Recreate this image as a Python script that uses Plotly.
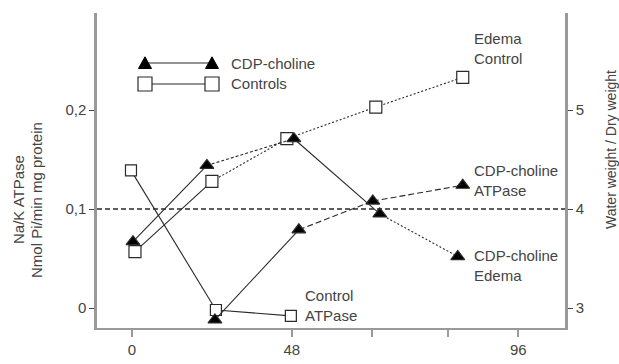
import plotly.graph_objects as go

# ---------------- data ----------------
# hours after injury (x), Na/K ATPase (left axis), water/dry weight (right axis)
ctrl_edema_h = [0.9, 24.0, 46.5, 73.2, 99.3]
ctrl_edema_v = [3.57, 4.28, 4.71, 5.03, 5.33]

cdp_edema_h = [0.3, 22.5, 48.6, 74.4, 97.8]
cdp_edema_v = [3.67, 4.44, 4.71, 3.95, 3.52]

cdp_atp_h = [24.9, 50.1, 72.3, 99.3]
cdp_atp_v = [-0.012, 0.079, 0.108, 0.124]

ctrl_atp_h = [-0.3, 25.2, 47.7]
ctrl_atp_v = [0.139, -0.002, -0.008]

# segment styles between successive points
ctrl_edema_dash = ["solid", "2px,2px", "2px,2px", "2px,2px"]
cdp_edema_dash = ["solid", "3px,2px", "solid", "2px,2px"]
cdp_atp_dash = ["solid", "6px,3px", "6px,3px"]
ctrl_atp_dash = ["solid", "solid"]

x_tickvals = [0, 48, 72, 95, 116]
x_ticktext = ["0", "48", "", "", "96"]
y_tickvals = [0, 0.1, 0.2]
y_ticktext = ["0", "0,1", "0,2"]
y2_tickvals = [3, 4, 5]
y2_ticktext = ["3", "4", "5"]

INK = "#2a2a2a"
TXT = "#444444"
AX = "#9a9a9a"
FONT = "Liberation Sans, Arial, sans-serif"

fig = go.Figure()

def add_series(h, v, dashes, yaxis, symbol, size, fill):
    for i, d in enumerate(dashes):
        fig.add_trace(go.Scatter(x=h[i:i + 2], y=v[i:i + 2], yaxis=yaxis, mode="lines",
                                 line=dict(color=INK, width=1.1, dash=d),
                                 showlegend=False, hoverinfo="skip"))
    fig.add_trace(go.Scatter(x=h, y=v, yaxis=yaxis, mode="markers",
                             marker=dict(symbol=symbol, size=size, color=fill,
                                         line=dict(color=INK, width=1.2)),
                             showlegend=False))

add_series(ctrl_edema_h, ctrl_edema_v, ctrl_edema_dash, "y2", "square", 12, "white")
add_series(ctrl_atp_h, ctrl_atp_v, ctrl_atp_dash, "y", "square", 11, "white")
add_series(cdp_edema_h, cdp_edema_v, cdp_edema_dash, "y2", "triangle-up", 12, "black")
add_series(cdp_atp_h, cdp_atp_v, cdp_atp_dash, "y", "triangle-up", 12, "black")

# ---------------- layout geometry ----------------
W, H = 619, 364
L, R, T, B = 97, 565, 13, 328
PW, PH = R - L, B - T

def px(x):
    return (x - L) / PW

def py(y):
    return (B - y) / PH

fig.update_layout(
    width=W, height=H,
    margin=dict(l=L, r=W - R, t=T, b=H - B),
    paper_bgcolor="white", plot_bgcolor="white",
    font=dict(family=FONT, size=15, color=TXT),
    xaxis=dict(range=[-10.5, 130], tickvals=x_tickvals, ticktext=x_ticktext,
               automargin=False,
               showgrid=False, zeroline=False, showline=True, linecolor=AX, linewidth=2,
               ticks="outside", ticklen=7, tickcolor=AX, tickwidth=1.5),
    yaxis=dict(range=[-0.0202, 0.298], tickvals=y_tickvals, ticktext=y_ticktext,
               automargin=False,
               showgrid=False, zeroline=False, showline=True, linecolor=AX, linewidth=2.5,
               ticks="outside", ticklen=5, tickcolor=TXT, tickwidth=1.2),
    yaxis2=dict(range=[2.798, 5.98], tickvals=y2_tickvals, ticktext=y2_ticktext,
                overlaying="y", side="right", automargin=False,
                showgrid=False, zeroline=False, showline=True, linecolor=AX, linewidth=2.5,
                ticks="outside", ticklen=5, tickcolor=TXT, tickwidth=1.2),
)

# dashed reference line at 0,1 / 4
fig.add_shape(type="line", xref="paper", yref="y", x0=0, x1=1, y0=0.1, y1=0.1,
              line=dict(color=INK, width=1.3, dash="5px,3px"))

# ---------------- legend drawn by hand ----------------
def tri(cx, cy, s=6.5):
    pts = [(cx - s, cy + s * 0.85), (cx + s, cy + s * 0.85), (cx, cy - s * 0.95)]
    return "M " + " L ".join(f"{px(a):.5f},{py(b):.5f}" for a, b in pts) + " Z"

for cy in (63, 84):
    fig.add_shape(type="line", xref="paper", yref="paper",
                  x0=px(145), x1=px(212), y0=py(cy), y1=py(cy),
                  line=dict(color=INK, width=1.1))
for cx in (145, 212):
    fig.add_shape(type="path", xref="paper", yref="paper", path=tri(cx, 63),
                  fillcolor="black", line=dict(color="black", width=1))
    fig.add_shape(type="rect", xref="paper", yref="paper",
                  x0=px(cx - 7), x1=px(cx + 7), y0=py(84 - 7), y1=py(84 + 7),
                  fillcolor="white", line=dict(color=INK, width=1.2))

def label(x, y, text, anchor="left", angle=0, size=15):
    fig.add_annotation(x=px(x), y=py(y), xref="paper", yref="paper", text=text,
                       showarrow=False, xanchor=anchor, yanchor="middle",
                       textangle=angle, font=dict(size=size, color=TXT, family=FONT),
                       align="left")

label(229, 63, "CDP-choline")
label(229, 84, "Controls")
label(472, 48, "Edema<br>Control")
label(472, 180, "CDP-choline<br>ATPase")
label(472, 265, "CDP-choline<br>Edema")
label(303, 305, "Control<br>ATPase")

# axis titles
fig.add_annotation(x=px(18), y=py(200), xref="paper", yref="paper", text="Na/K ATPase",
                   showarrow=False, textangle=-90, xanchor="center", yanchor="middle",
                   font=dict(size=15, color=TXT, family=FONT))
fig.add_annotation(x=px(36), y=py(200), xref="paper", yref="paper",
                   text="Nmol Pi/min mg protein",
                   showarrow=False, textangle=-90, xanchor="center", yanchor="middle",
                   font=dict(size=15, color=TXT, family=FONT))
fig.add_annotation(x=px(611), y=py(150), xref="paper", yref="paper",
                   text="Water weight / Dry weight",
                   showarrow=False, textangle=-90, xanchor="center", yanchor="middle",
                   font=dict(size=14, color=TXT, family=FONT))

fig.write_html("out.html")
